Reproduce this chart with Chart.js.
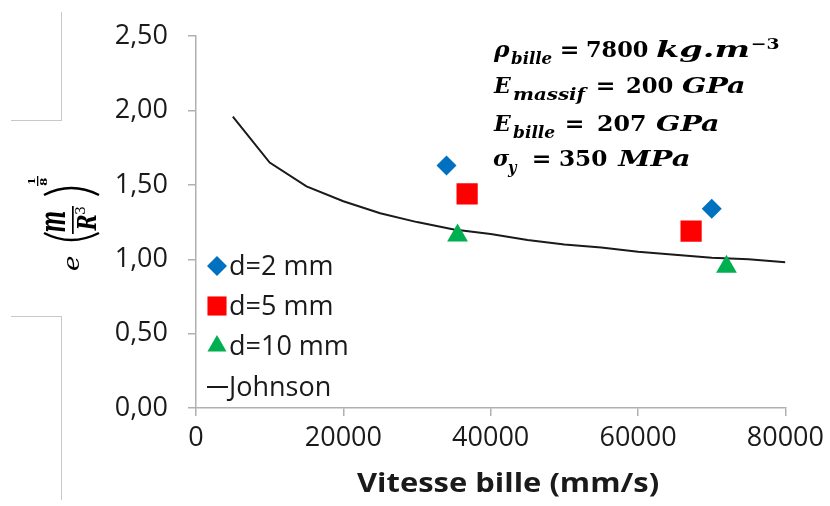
<!DOCTYPE html>
<html>
<head>
<meta charset="utf-8">
<script src="https://cdn.jsdelivr.net/npm/chart.js@4/dist/chart.umd.min.js"></script>
<style>
  html, body { margin: 0; padding: 0; background: #fff; }
  #wrap { position: relative; width: 830px; height: 506px; }
  canvas { position: absolute; left: 0; top: 0; }
  .deco { position: absolute; background: #c8c8c8; }
</style>
</head>
<body>
<div id="wrap">
  <canvas id="c" width="830" height="506"></canvas>
  <div class="deco" style="left:61px;top:12px;width:1px;height:109px;"></div>
  <div class="deco" style="left:11px;top:120px;width:51px;height:1px;"></div>
  <div class="deco" style="left:11px;top:316px;width:51px;height:1px;"></div>
  <div class="deco" style="left:61px;top:316px;width:1px;height:184px;"></div>
</div>
<script>
// ---- data ----
const d2X = [34000, 70000];
const d2Y = [1.63, 1.34];
const d5X = [36800, 67200];
const d5Y = [1.44, 1.19];
const d10X = [35500, 72000];
const d10Y = [1.16, 0.95];
const johnsonX = [5000, 10000, 15000, 20000, 25000, 30000, 35000, 40000, 45000, 50000, 55000, 60000, 65000, 70000, 75000, 80000];
const johnsonY = [1.96, 1.65, 1.49, 1.39, 1.31, 1.25, 1.20, 1.17, 1.13, 1.10, 1.08, 1.05, 1.03, 1.01, 1.00, 0.98];
const seriesNames = ['d=2 mm', 'd=5 mm', 'd=10 mm', 'Johnson'];
const xTickValues = [0, 20000, 40000, 60000, 80000];
const xTickLabels = ['0', '20000', '40000', '60000', '80000'];
const yTickValues = [0, 0.5, 1, 1.5, 2, 2.5];
const yTickLabels = ['0,00', '0,50', '1,00', '1,50', '2,00', '2,50'];
const xTitle = 'Vitesse bille (mm/s)';
const annotationText = [
  [['ρ', 'var'], ['bille', 'sub'], ['=', 'op'], ['7800', 'num'], ['kg.m', 'unit'], ['−3', 'sup']],
  [['E', 'var'], ['massif', 'sub'], ['=', 'op'], ['200', 'num'], ['GPa', 'unit']],
  [['E', 'var'], ['bille', 'sub'], ['=', 'op'], ['207', 'num'], ['GPa', 'unit']],
  [['σ', 'var'], ['y', 'sub'], ['=', 'op'], ['350', 'num'], ['MPa', 'unit']]
];

// ---- layout (pixel boxes for the annotation segments: [left, width]) ----
const annotationBoxes = [
  [[493, 17], [511, 41], [562, 16], [587, 61], [656, 92], [752, 27]],
  [[493, 19], [513, 76], [598, 16], [627, 46], [682, 62]],
  [[493, 19], [513, 42], [567, 16], [598, 47], [656, 62]],
  [[493, 17], [507, 11], [534, 16], [560, 47], [617, 72]]
];
const annotationBaselines = [57, 93, 131, 166];

const pts = (xs, ys) => xs.map((x, i) => ({ x: x, y: ys[i] }));

const FONT = '"Open Sans"';
const MATH = '"DejaVu Serif"';
const axisColor = '#b0b0b0';

function fitBox(ctx, txt, font, x0, x1, y0, y1) {
  ctx.font = font;
  const m = ctx.measureText(txt);
  const w = m.actualBoundingBoxLeft + m.actualBoundingBoxRight;
  const h = m.actualBoundingBoxAscent + m.actualBoundingBoxDescent;
  ctx.save();
  ctx.translate(x0, y0);
  ctx.scale((x1 - x0) / w, (y1 - y0) / h);
  ctx.fillText(txt, m.actualBoundingBoxLeft, m.actualBoundingBoxAscent);
  ctx.restore();
}
function fitWidth(ctx, txt, font, x0, width, baseline) {
  ctx.font = font;
  const m = ctx.measureText(txt);
  const w = m.actualBoundingBoxLeft + m.actualBoundingBoxRight;
  const s = width / w;
  ctx.save();
  ctx.translate(x0, baseline);
  ctx.scale(s, 1);
  ctx.fillText(txt, m.actualBoundingBoxLeft, 0);
  ctx.restore();
}

const customDraw = {
  id: 'customDraw',
  afterDraw(chart) {
    const ctx = chart.ctx;
    // legend
    const legendY = [266, 306, 346, 387];
    chart.data.datasets.forEach((ds, i) => {
      const y = legendY[i];
      ctx.save();
      if (ds.showLine) {
        ctx.strokeStyle = ds.borderColor;
        ctx.lineWidth = 2;
        ctx.beginPath();
        ctx.moveTo(207, y);
        ctx.lineTo(228, y);
        ctx.stroke();
      } else {
        ctx.fillStyle = ds.backgroundColor;
        ctx.strokeStyle = ds.borderColor;
        Chart.helpers.drawPoint(ctx, {
          pointStyle: ds.pointStyle,
          radius: ds.legendRadius,
          rotation: 0,
          borderWidth: 0
        }, 217, y);
      }
      ctx.fillStyle = '#1a1a1a';
      ctx.font = '27px ' + FONT;
      ctx.textBaseline = 'middle';
      ctx.textAlign = 'left';
      ctx.fillText(ds.label, 229, y + 1);
      ctx.restore();
    });

    // x-axis title
    ctx.save();
    ctx.fillStyle = '#1a1a1a';
    ctx.textAlign = 'left';
    ctx.textBaseline = 'alphabetic';
    fitWidth(ctx, xTitle, 'bold 27px ' + FONT, 357, 302, 492);
    ctx.restore();

    // y-axis title (rotated math expression)
    ctx.save();
    ctx.translate(79, 270);
    ctx.rotate(-Math.PI / 2);
    ctx.fillStyle = '#000';
    ctx.strokeStyle = '#000';
    ctx.textBaseline = 'alphabetic';
    ctx.textAlign = 'left';
    fitBox(ctx, 'e', 'italic 24px ' + MATH, 0, 14, -12, 0);
    ctx.lineWidth = 2.4;
    ctx.beginPath();
    ctx.moveTo(37, -35); ctx.quadraticCurveTo(23, -8, 37, 20);
    ctx.moveTo(75, -35); ctx.quadraticCurveTo(89, -8, 75, 20);
    ctx.stroke();
    fitBox(ctx, 'm', 'bold italic 26px ' + MATH, 38, 58, -33, -14);
    ctx.fillRect(36, -7, 28, 1.7);
    fitBox(ctx, 'R', 'bold italic 24px ' + MATH, 39, 55, -3, 17);
    fitBox(ctx, '3', '14px ' + MATH, 56, 63, -4, 6);
    fitBox(ctx, '1', 'bold 12px ' + MATH, 86, 92, -52, -44);
    ctx.fillRect(84, -42, 10, 1.3);
    fitBox(ctx, '8', 'bold 12px ' + MATH, 84, 92, -40, -32);
    ctx.restore();

    // annotation block
    const styles = {
      var: { font: 'bold italic 22px ' + MATH, dy: 0 },
      sub: { font: 'bold italic 16px ' + MATH, dy: 7 },
      op: { font: 'bold 22px ' + MATH, dy: 0 },
      num: { font: 'bold 22px ' + MATH, dy: 0 },
      unit: { font: 'bold italic 22px ' + MATH, dy: 0 },
      sup: { font: 'bold 15px ' + MATH, dy: -8 }
    };
    ctx.save();
    ctx.fillStyle = '#000';
    ctx.textBaseline = 'alphabetic';
    ctx.textAlign = 'left';
    annotationText.forEach((line, li) => {
      line.forEach(([txt, st], si) => {
        const s = styles[st];
        const [bx, bw] = annotationBoxes[li][si];
        fitWidth(ctx, txt, s.font, bx, bw, annotationBaselines[li] + s.dy);
      });
    });
    ctx.restore();
  }
};

new Chart(document.getElementById('c'), {
  type: 'scatter',
  data: {
    datasets: [
      { label: seriesNames[0], data: pts(d2X, d2Y), pointStyle: 'rectRot', pointRadius: 10, legendRadius: 10,
        backgroundColor: '#0070C0', borderColor: '#0070C0', borderWidth: 0, showLine: false },
      { label: seriesNames[1], data: pts(d5X, d5Y), pointStyle: 'rect', pointRadius: 15, legendRadius: 13.5,
        backgroundColor: '#FF0000', borderColor: '#FF0000', borderWidth: 0, showLine: false },
      { label: seriesNames[2], data: pts(d10X, d10Y), pointStyle: 'triangle', pointRadius: 12, legendRadius: 11,
        backgroundColor: '#00B050', borderColor: '#00B050', borderWidth: 0, showLine: false },
      { label: seriesNames[3], data: pts(johnsonX, johnsonY), showLine: true, pointRadius: 0,
        borderColor: '#1a1a1a', backgroundColor: '#1a1a1a', borderWidth: 2, tension: 0 }
    ]
  },
  options: {
    responsive: false,
    animation: false,
    layout: { padding: { top: 36, right: 43, left: 0, bottom: 0 } },
    plugins: { legend: { display: false }, tooltip: { enabled: false } },
    scales: {
      x: {
        type: 'linear', min: 0, max: 80000,
        afterBuildTicks: (s) => { s.ticks = xTickValues.map(v => ({ value: v })); },
        afterFit: (s) => { s.height = 98; },
        grid: { drawOnChartArea: false, drawTicks: true, tickLength: 8, color: axisColor, lineWidth: 1.5 },
        border: { display: true, color: axisColor, width: 1.5 },
        ticks: {
          padding: 6, color: '#1a1a1a', font: { family: 'Open Sans', size: 27 }, maxRotation: 0,
          callback: (v) => { const i = xTickValues.indexOf(v); return i >= 0 ? xTickLabels[i] : ''; }
        },
        title: { display: false }
      },
      y: {
        type: 'linear', min: 0, max: 2.5,
        afterBuildTicks: (s) => { s.ticks = yTickValues.map(v => ({ value: v })); },
        afterFit: (s) => { s.width = 196; },
        grid: { drawOnChartArea: false, drawTicks: true, tickLength: 8, color: axisColor, lineWidth: 1.5 },
        border: { display: true, color: axisColor, width: 1.5 },
        ticks: {
          padding: 20, color: '#1a1a1a', font: { family: 'Open Sans', size: 27 },
          callback: (v) => { const i = yTickValues.indexOf(v); return i >= 0 ? yTickLabels[i] : ''; }
        },
        title: { display: false }
      }
    }
  },
  plugins: [customDraw]
});
</script>
</body>
</html>
